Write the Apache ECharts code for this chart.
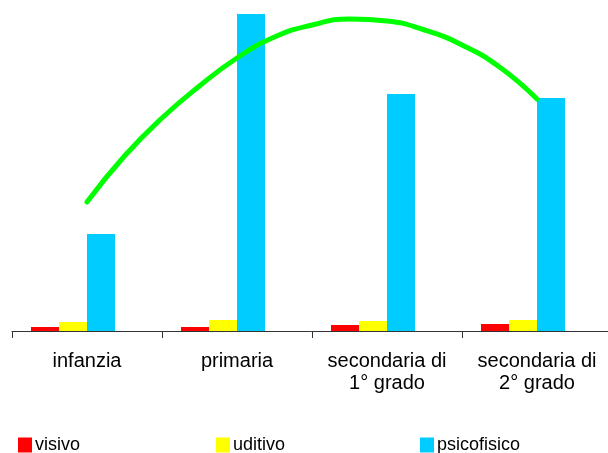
<!DOCTYPE html>
<html>
<head>
<meta charset="utf-8">
<script src="https://cdn.jsdelivr.net/npm/echarts@6/dist/echarts.min.js"></script>
<style>
  html, body { margin: 0; padding: 0; background: #fff; }
  #main { width: 608px; height: 453px; }
</style>
</head>
<body>
<div id="main"></div>
<script>
// categorie (ordine di scuola)
var categories = ['infanzia', 'primaria', 'secondaria di\n1° grado', 'secondaria di\n2° grado'];

// valori per tipo di disabilita'
var visivo = [4, 4, 6, 7];
var uditivo = [9, 11, 10, 11];
var psicofisico = [97, 317, 237, 233];

// linea di tendenza (letta a passi di un quarto di categoria)
var trendX = [0, 0.25, 0.5, 0.75, 1, 1.25, 1.5, 1.75, 2, 2.25, 2.5, 2.75, 3];
var trendY = [129, 175, 213, 245, 273, 294, 306, 312, 310, 301, 286, 264, 232];

var chart = echarts.init(document.getElementById('main'));

var trendData = trendX.map(function (x, i) { return [x, trendY[i]]; });

var fontFamily = 'Liberation Sans, Arial, sans-serif';

var option = {
  animation: false,
  backgroundColor: '#fff',
  grid: {
    left: 12, width: 600, top: 1, height: 330,
    containLabel: false,
    outerBoundsMode: 'none'
  },
  xAxis: [
    {
      type: 'category',
      data: categories,
      boundaryGap: true,
      axisLine: { lineStyle: { color: '#333', width: 1 } },
      axisTick: { show: true, length: 7, lineStyle: { color: '#333' } },
      axisLabel: {
        margin: 19,
        interval: 0,
        lineHeight: 22,
        fontFamily: fontFamily,
        fontSize: 20,
        color: '#000'
      },
      splitLine: { show: false }
    },
    {
      type: 'value',
      min: -0.5,
      max: 3.5,
      show: false
    }
  ],
  yAxis: {
    type: 'value',
    min: 0,
    max: 330,
    show: false,
    splitLine: { show: false }
  },
  legend: [
    { data: ['visivo'], left: 18, top: 436 },
    { data: ['uditivo'], left: 216, top: 436 },
    { data: ['psicofisico'], left: 420, top: 436 }
  ].map(function (l) {
    l.icon = 'rect';
    l.itemWidth = 14;
    l.itemHeight = 15;
    l.itemGap = 0;
    l.padding = 0;
    l.selectedMode = false;
    l.textStyle = {
      fontFamily: fontFamily,
      fontSize: 18,
      color: '#000',
      padding: [0, 0, 0, -2]
    };
    return l;
  }),
  series: [
    { name: 'visivo', type: 'bar', data: visivo, barWidth: 28, barGap: '0%',
      itemStyle: { color: '#ff0000' } },
    { name: 'uditivo', type: 'bar', data: uditivo, barWidth: 28, barGap: '0%',
      itemStyle: { color: '#ffff00' } },
    { name: 'psicofisico', type: 'bar', data: psicofisico, barWidth: 28, barGap: '0%',
      itemStyle: { color: '#00ccff' } },
    // serie vuota: occupa il quarto posto del gruppo come nell'originale
    { name: 'vuota', type: 'bar', data: [null, null, null, null], barWidth: 28, barGap: '0%',
      itemStyle: { color: 'transparent' } },
    {
      name: 'tendenza',
      type: 'line',
      xAxisIndex: 1,
      data: trendData,
      smooth: 0.5,
      symbol: 'none',
      lineStyle: { color: '#00ff00', width: 5, cap: 'round' },
      z: 5
    }
  ]
};

chart.setOption(option);
</script>
</body>
</html>
